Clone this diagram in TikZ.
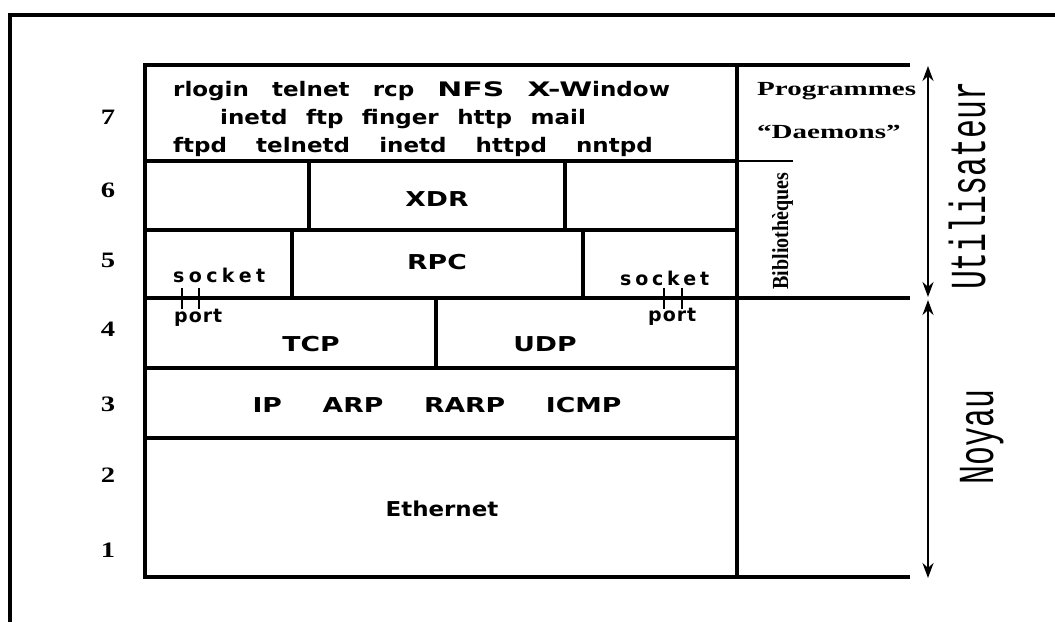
\documentclass[tikz,border=0pt]{standalone}
\usepackage{fontspec}
\setmainfont{Liberation Serif}
\newfontfamily\lblfont{DejaVu Sans}
\newfontfamily\typfont{Liberation Mono}
\usetikzlibrary{arrows.meta}
\newcommand\capw[1]{\scalebox{1.3}[1]{#1}}
\newcommand\serw[1]{\scalebox{1.3}[1]{#1}}
\newcommand\toprow[2]{\scalebox{1.15}[1]{\hbox to #1{#2}}}
\tikzset{
  frameline/.style={line width=4pt},
  grid/.style={line width=3.2pt},
  thingrid/.style={line width=1.8pt},
  tick/.style={line width=2.2pt},
  lbl/.style={font=\lblfont\bfseries\fontsize{20.5}{20.5}\selectfont, inner sep=0pt},
  toplbl/.style={font=\lblfont\bfseries\fontsize{20}{20}\selectfont, inner sep=0pt, anchor=base west},
  smalllbl/.style={font=\lblfont\bfseries\fontsize{19}{19}\selectfont, inner sep=0pt},
  num/.style={font=\bfseries\fontsize{22}{22}\selectfont, inner sep=0pt},
  side/.style={font=\bfseries\fontsize{20}{20}\selectfont, inner sep=0pt, anchor=base west},
  vert/.style={font=\typfont\fontsize{31.5}{31.5}\selectfont, inner sep=0pt, rotate=90, anchor=base},
  spanarrow/.style={line width=2pt, {Stealth[length=15pt,width=11pt]}-{Stealth[length=15pt,width=11pt]}},
}
\begin{document}
\begin{tikzpicture}[x=1pt,y=-1pt]
\useasboundingbox (0,0) rectangle (1055,622);
% outer frame
\draw[frameline] (1055,15) -- (10,15) -- (10,622);
% table
\draw[grid] (145,65) rectangle (737,577);
\draw[grid] (737,65) -- (910,65);
\draw[grid] (145,298) -- (910,298);
\draw[grid] (737,577) -- (910,577);
\draw[grid] (145,161) -- (737,161);
\draw[thingrid] (737,161) -- (793,161);
\draw[grid] (145,230) -- (737,230);
\draw[grid] (145,368) -- (737,368);
\draw[grid] (145,438) -- (737,438);
\draw[grid] (309,161) -- (309,230);
\draw[grid] (565,161) -- (565,230);
\draw[grid] (292,230) -- (292,298);
\draw[grid] (583,230) -- (583,298);
\draw[grid] (436,298) -- (436,368);
% layer numbers
\node[num] (n7) at (108,117) {\serw{7}};
\node[num] (n6) at (108,190) {\serw{6}};
\node[num] (n5) at (108,260) {\serw{5}};
\node[num] (n4) at (108,329) {\serw{4}};
\node[num] (n3) at (108,404) {\serw{3}};
\node[num] (n2) at (108,475) {\serw{2}};
\node[num] (n1) at (108,550) {\serw{1}};
% layer 7
\node[toplbl] (l7a) at (173,96) {\toprow{432pt}{rlogin\hfill telnet\hfill rcp\hfill \capw{NFS}\hfill \capw{X-W}indow}};
\node[toplbl] (l7b) at (220,124) {\toprow{318pt}{inetd\hfill ftp\hfill finger\hfill http\hfill mail}};
\node[toplbl] (l7c) at (173,152) {\toprow{417pt}{ftpd\hfill telnetd\hfill inetd\hfill httpd\hfill nntpd}};
% layers 6..1
\node[lbl] (xdr) at (437,199) {\capw{XDR}};
\node[lbl] (rpc) at (437,262) {\capw{RPC}};
\node[smalllbl, anchor=base west] (sockl) at (173,282) {\hbox to 92pt{s\hfil o\hfil c\hfil k\hfil e\hfil t}};
\node[smalllbl, anchor=base west] (sockr) at (620,285) {\hbox to 89pt{s\hfil o\hfil c\hfil k\hfil e\hfil t}};
\node[smalllbl, anchor=base west] (portl) at (174,322) {\hbox to 48pt{p\hfil o\hfil r\hfil t}};
\node[smalllbl, anchor=base west] (portr) at (648,321) {\hbox to 48pt{p\hfil o\hfil r\hfil t}};
\draw[tick] (182,288) -- (182,309);
\draw[tick] (199,288) -- (199,309);
\draw[tick] (664,288) -- (664,309);
\draw[tick] (682,288) -- (682,309);
\node[lbl] (tcp) at (311,344) {\capw{TCP}};
\node[lbl] (udp) at (545,344) {\capw{UDP}};
\node[lbl] (ip) at (437,405) {\hbox to 369pt{\capw{IP}\hfill \capw{ARP}\hfill \capw{RARP}\hfill \capw{ICMP}}};
\node[lbl] (eth) at (442,509) {\scalebox{1.12}[1]{Ethernet}};
% right column
\node[side] (prog) at (757,95) {\scalebox{1.45}[1]{Programmes}};
\node[side] (daem) at (757,138) {\scalebox{1.45}[1]{“Daemons”}};
\node[font=\bfseries\fontsize{23}{23}\selectfont, inner sep=0pt, rotate=90, anchor=base] (bib) at (788,231) {\scalebox{0.87}[1]{Bibliothèques}};
% ranges
\coordinate (utop) at (928,66);
\coordinate (ubot) at (928,297);
\coordinate (ntop) at (928,300);
\coordinate (nbot) at (928,578);
\draw[spanarrow] (utop) -- (ubot);
\draw[spanarrow] (ntop) -- (nbot);
\node[vert] (util) at (985,186) {\scalebox{1}[1.6]{Utilisateur}};
\node[vert] (noyau) at (993,437) {\scalebox{1}[1.6]{Noyau}};
\end{tikzpicture}
\end{document}
